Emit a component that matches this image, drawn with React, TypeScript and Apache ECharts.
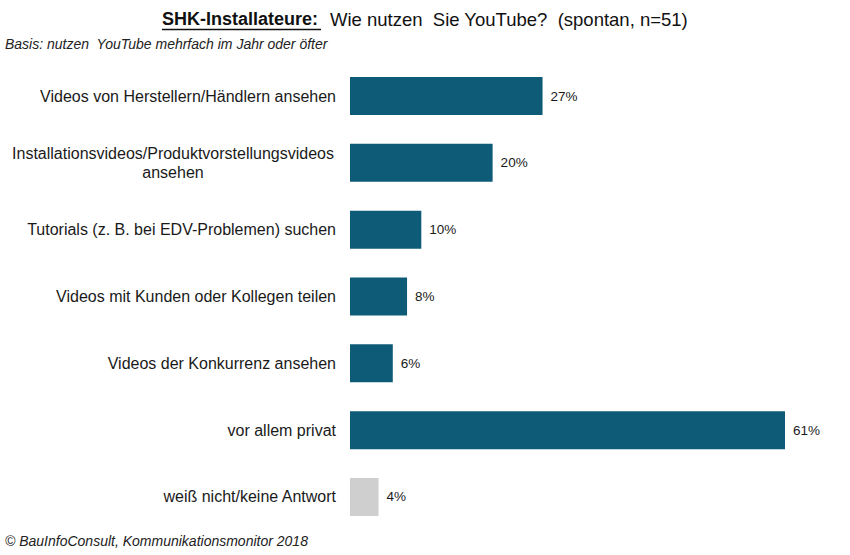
import React, { useEffect, useRef } from "react";
import * as echarts from "echarts";

const categories = [
  "Videos von Herstellern/Händlern ansehen",
  "Installationsvideos/Produktvorstellungsvideos\nansehen",
  "Tutorials (z. B. bei EDV-Problemen) suchen",
  "Videos mit Kunden oder Kollegen teilen",
  "Videos der Konkurrenz ansehen",
  "vor allem privat",
  "weiß nicht/keine Antwort",
];
const values = [27, 20, 10, 8, 6, 61, 4];
const barColors = ["#0d5b77", "#0d5b77", "#0d5b77", "#0d5b77", "#0d5b77", "#0d5b77", "#cfcfcf"];

const titleBold = "SHK-Installateure:";
const titleRest = "Wie nutzen  Sie YouTube?  (spontan, n=51)";
const subtitle = "Basis: nutzen  YouTube mehrfach im Jahr oder öfter";
const footer = "© BauInfoConsult, Kommunikationsmonitor 2018";

const FONT = "'Liberation Sans', Arial, sans-serif";

export default function App() {
  const ref = useRef<HTMLDivElement>(null);
  useEffect(() => {
    if (!ref.current) return;
    const chart = echarts.init(ref.current, undefined, { renderer: "svg" });
    chart.setOption({
      animation: false,
      backgroundColor: "#ffffff",
      textStyle: { fontFamily: FONT },
      grid: { left: 350, right: 65, top: 62.6, bottom: 24.6, containLabel: false },
      xAxis: {
        type: "value",
        min: 0,
        max: 61,
        show: false,
      },
      yAxis: {
        type: "category",
        inverse: true,
        data: categories,
        axisLine: { show: false },
        axisTick: { show: false },
        splitLine: { show: false },
        axisLabel: {
          margin: 14,
          align: "right",
          color: "#1a1a1a",
          fontSize: 16,
          fontFamily: FONT,
          lineHeight: 19,
          formatter: (v: string) => {
            if (v.indexOf("\n") >= 0) {
              return v
                .split("\n")
                .map((s) => "{c|" + s + "}")
                .join("\n");
            }
            return v;
          },
          rich: {
            c: {
              width: 326,
              align: "center",
              fontSize: 16,
              fontFamily: FONT,
              color: "#1a1a1a",
              lineHeight: 19,
            },
          },
        },
      },
      series: [
        {
          type: "bar",
          barWidth: 38,
          data: values.map((v, i) => ({ value: v, itemStyle: { color: barColors[i] } })),
          label: {
            show: true,
            position: "right",
            distance: 8,
            formatter: "{c}%",
            color: "#1a1a1a",
            fontSize: 13.5,
            fontFamily: FONT,
          },
        },
      ],
      graphic: [
        {
          type: "text",
          left: 162,
          top: 10,
          style: { text: titleBold, font: "bold 18px " + FONT, fill: "#111" },
        },
        {
          type: "line",
          shape: { x1: 162, y1: 29.5, x2: 321, y2: 29.5 },
          style: { stroke: "#111", lineWidth: 1.5 },
        },
        {
          type: "text",
          left: 330,
          top: 10,
          style: { text: titleRest, font: "18.5px " + FONT, fill: "#111" },
        },
        {
          type: "text",
          left: 5,
          top: 37,
          style: { text: subtitle, font: "italic 14px " + FONT, fill: "#222" },
        },
        {
          type: "text",
          left: 5,
          top: 534,
          style: { text: footer, font: "italic 14px " + FONT, fill: "#222" },
        },
      ],
    });
    return () => chart.dispose();
  }, []);
  return (
    <div
      ref={ref}
      style={{ position: "absolute", left: 0, top: 0, width: 850, height: 555 }}
    />
  );
}
